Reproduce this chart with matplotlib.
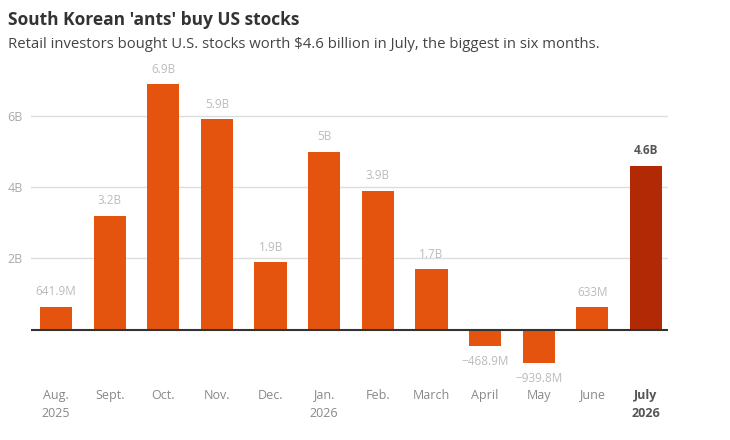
import matplotlib.pyplot as plt

# monthly net purchases of US stocks by South Korean retail investors, billions USD
months = ['Aug.\n2025', 'Sept.', 'Oct.', 'Nov.', 'Dec.', 'Jan.\n2026', 'Feb.',
          'March', 'April', 'May', 'June', 'July\n2026']
values = [0.6419, 3.2, 6.9, 5.9, 1.9, 5.0, 3.9, 1.7, -0.4689, -0.9398, 0.633, 4.6]
labels = ['641.9M', '3.2B', '6.9B', '5.9B', '1.9B', '5B', '3.9B', '1.7B',
          '\u2212468.9M', '\u2212939.8M', '633M', '4.6B']
yticks = [2, 4, 6]
ytick_labels = ['2B', '4B', '6B']

plt.rcParams['font.family'] = ['Open Sans', 'DejaVu Sans']

fig = plt.figure(figsize=(7.3, 4.4), dpi=100)
ax = fig.add_axes([31 / 730, 64 / 440, 637 / 730, 313.5 / 440])

orange = '#E5540F'
dark = '#B22A05'
colors = [orange] * (len(values) - 1) + [dark]
x = list(range(len(values)))
ax.bar(x, values, width=0.6, color=colors, zorder=3)

for i, (v, lab) in enumerate(zip(values, labels)):
    last = i == len(values) - 1
    if v >= 0:
        ax.annotate(lab, (i, v), xytext=(0, 6), textcoords='offset points',
                    ha='center', va='bottom', fontsize=8.5,
                    color='#555555' if last else '#BBBBBB',
                    fontweight='bold' if last else 'normal')
    else:
        ax.annotate(lab, (i, v), xytext=(0, -6), textcoords='offset points',
                    ha='center', va='top', fontsize=8.5, color='#BBBBBB')

ax.set_xlim(-0.466, 11.41)
ax.set_ylim(-1.3, 7.5)
ax.set_yticks(yticks)
ax.set_yticklabels(ytick_labels)
ax.set_xticks(x)
ax.set_xticklabels(months, linespacing=1.5)
for t in ax.get_xticklabels()[:-1]:
    t.set_color('#888888')
last_lab = ax.get_xticklabels()[-1]
last_lab.set_color('#555555')
last_lab.set_fontweight('bold')
ax.tick_params(axis='x', length=0, labelsize=9, pad=9)
ax.tick_params(axis='y', length=0, labelsize=9, labelcolor='#AAAAAA', pad=6)

ax.grid(axis='y', color='#DDDDDD', linewidth=1, zorder=0)
ax.axhline(0, color='#333333', linewidth=1.5, zorder=4)
for s in ax.spines.values():
    s.set_visible(False)

fig.text(8 / 730, 1 - 20 / 440, "South Korean 'ants' buy US stocks",
         fontsize=12.5, fontweight='bold', color='#333333', va='center')
fig.text(8 / 730, 1 - 45 / 440,
         'Retail investors bought U.S. stocks worth $4.6 billion in July, the biggest in six months.',
         fontsize=10.7, color='#444444', va='center')

fig.savefig('out.png', dpi=100)
